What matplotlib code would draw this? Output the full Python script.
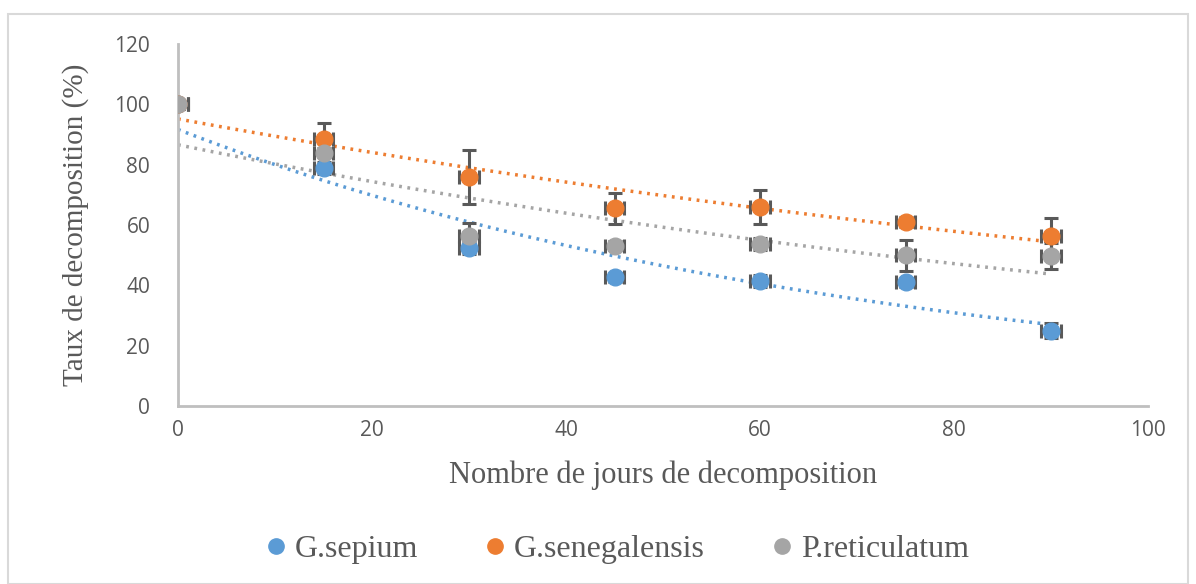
import numpy as np
import matplotlib
matplotlib.use('Agg')
import matplotlib.pyplot as plt
from matplotlib.patches import Rectangle

days = [0, 15, 30, 45, 60, 75, 90]

sepium = [100, 79, 52.5, 42.7, 41.4, 41, 25]
sepium_err = [1.5, 2, 2, 1.5, 2, 1.5, 2.5]

senegalensis = [100, 88.5, 76, 65.5, 66, 61, 56.3]
senegalensis_err = [1.5, 5.3, 9, 5.2, 5.6, 1.5, 6.1]

reticulatum = [100, 84, 56.3, 53.1, 53.7, 49.9, 49.7]
reticulatum_err = [1.5, 1.5, 4.5, 1.5, 2, 5.1, 4.4]

names = ['G.sepium', 'G.senegalensis', 'P.reticulatum']
colors = ['#5b9bd5', '#ed7d31', '#a5a5a5']
series = [(sepium, sepium_err), (senegalensis, senegalensis_err),
          (reticulatum, reticulatum_err)]

fig = plt.figure(figsize=(11.96, 5.84), dpi=100)
fig.patches.append(Rectangle((8 / 1196, 0), 1180 / 1196, 570 / 584,
                             transform=fig.transFigure, fill=False,
                             edgecolor='#d9d9d9', linewidth=1.5))
ax = fig.add_axes([178 / 1196, 1 - 406 / 584, 970 / 1196, 362 / 584])

x = np.array(days)
xx = np.linspace(0, 90, 200)
for (y, err), col, name in zip(series, colors, names):
    y = np.array(y)
    # exponential trendline (excel style)
    b, a = np.polyfit(x, np.log(y), 1)
    ax.plot(xx, np.exp(a) * np.exp(b * xx), linestyle=(0, (0.8, 1.6)),
            color=col, linewidth=2.5, zorder=2)

for (y, err), col, name in zip(series, colors, names):
    ax.errorbar(x, y, yerr=err, xerr=1, fmt='o', color=col, markersize=12,
                ecolor='#595959', elinewidth=2.2, capsize=5, capthick=2.2,
                label=name, zorder=3)

ax.set_xlim(0, 100)
ax.set_ylim(0, 120)
ax.set_xticks(range(0, 101, 20))
ax.set_yticks(range(0, 121, 20))
for s in ['top', 'right']:
    ax.spines[s].set_visible(False)
for s in ['left', 'bottom']:
    ax.spines[s].set_color('#bfbfbf')
    ax.spines[s].set_linewidth(2)
ax.tick_params(length=0, labelsize=15, labelcolor='#595959')
ax.tick_params(axis='y', pad=20)
ax.tick_params(axis='x', pad=10)
for lab in ax.get_xticklabels() + ax.get_yticklabels():
    lab.set_family('Open Sans')

ax.set_xlabel('Nombre de jours de decomposition', family='Liberation Serif',
              fontsize=22, color='#595959', labelpad=14)
ax.set_ylabel('Taux de decomposition (%)', family='Liberation Serif',
              fontsize=21, color='#595959', labelpad=18)

handles = [plt.Line2D([], [], marker='o', linestyle='', color=c, markersize=11)
           for c in colors]
fig.legend(handles, names, loc='center', bbox_to_anchor=(0.515, 1 - 549 / 584),
           ncol=3, frameon=False, prop={'family': 'Liberation Serif', 'size': 23},
           labelcolor='#595959', handlelength=0.8, handletextpad=0.2,
           columnspacing=2.0)

fig.savefig('out.png', dpi=100)
